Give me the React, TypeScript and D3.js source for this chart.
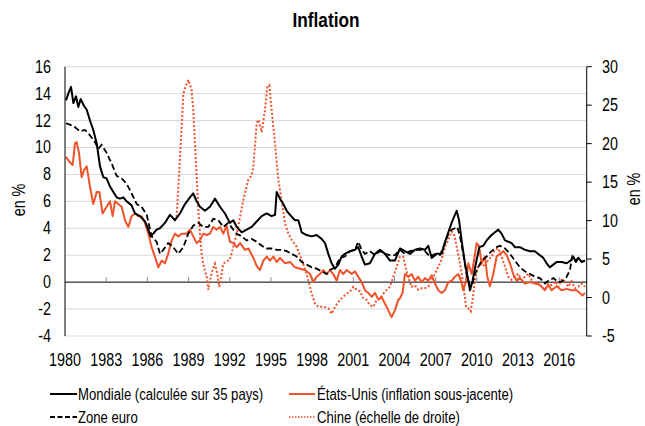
import React from 'react';
import * as d3 from 'd3';

// [année décimale, valeur en %]
const mondiale: [number, number][] = [
  [1980.07, 13.5], [1980.24, 14.0], [1980.44, 14.5], [1980.61, 13.3], [1980.8, 13.8], [1980.97, 13.0],
  [1981.14, 13.6], [1981.38, 13.1], [1981.58, 12.8], [1981.82, 12.0], [1982.06, 11.3], [1982.31, 10.3],
  [1982.55, 8.6], [1982.79, 7.8], [1983.03, 7.7], [1983.28, 7.1], [1983.52, 6.7], [1983.76, 6.3],
  [1984.0, 6.2], [1984.25, 6.3], [1984.49, 6.0], [1984.85, 5.7], [1985.1, 5.1], [1985.46, 4.9],
  [1985.83, 4.5], [1986.0, 4.1], [1986.24, 3.4], [1986.43, 3.6], [1986.67, 3.9], [1986.92, 4.0],
  [1987.28, 4.4], [1987.65, 5.0], [1988.01, 4.6], [1988.37, 5.1], [1988.74, 5.8], [1989.1, 6.3],
  [1989.34, 6.6], [1989.59, 6.0], [1989.83, 5.6], [1990.19, 5.3], [1990.56, 5.6], [1990.92, 6.2],
  [1991.29, 5.6], [1991.65, 5.1], [1992.01, 4.4], [1992.26, 4.6], [1992.51, 4.1], [1992.87, 3.7],
  [1993.23, 3.9], [1993.6, 4.1], [1993.96, 4.5], [1994.33, 4.9], [1994.69, 5.1], [1995.05, 4.9],
  [1995.3, 5.0], [1995.42, 6.7], [1995.66, 6.2], [1995.9, 5.8], [1996.15, 5.3], [1996.39, 5.0],
  [1996.75, 4.6], [1997.0, 4.6], [1997.24, 3.7], [1997.6, 3.5], [1997.97, 3.4], [1998.33, 3.5],
  [1998.7, 3.2], [1998.94, 2.9], [1999.18, 2.1], [1999.42, 1.4], [1999.67, 1.0], [1999.91, 1.3],
  [2000.15, 1.9], [2000.39, 2.1], [2000.76, 2.3], [2001.12, 2.4], [2001.36, 2.6], [2001.61, 1.9],
  [2001.85, 1.3], [2002.21, 1.4], [2002.58, 2.1], [2002.94, 2.4], [2003.31, 2.1], [2003.67, 1.6],
  [2004.03, 1.6], [2004.4, 2.5], [2004.76, 2.3], [2005.13, 2.1], [2005.49, 2.4], [2005.86, 2.5],
  [2006.22, 2.4], [2006.46, 2.7], [2006.71, 1.8], [2007.07, 2.1], [2007.43, 2.1], [2007.68, 3.0],
  [2007.92, 3.7], [2008.16, 4.4], [2008.36, 4.9], [2008.53, 5.3], [2008.7, 4.6], [2008.89, 3.1],
  [2009.13, 1.4], [2009.38, 0.1], [2009.5, -0.6], [2009.69, 0.1], [2009.93, 1.4], [2010.18, 2.6],
  [2010.47, 2.7], [2010.71, 3.1], [2011.07, 3.5], [2011.32, 3.7], [2011.56, 3.9], [2011.8, 3.6],
  [2012.05, 3.1], [2012.29, 3.0], [2012.53, 2.9], [2012.77, 2.6], [2013.14, 2.6], [2013.5, 2.4],
  [2013.87, 2.3], [2014.23, 2.3], [2014.59, 2.0], [2014.84, 1.8], [2015.08, 1.4], [2015.32, 1.1],
  [2015.57, 1.3], [2015.81, 1.5], [2016.17, 1.5], [2016.54, 1.4], [2016.83, 1.6], [2017.02, 1.9],
  [2017.22, 1.5], [2017.39, 1.8], [2017.63, 1.5], [2017.87, 1.6],
];

const zoneEuro: [number, number][] = [
  [1980.07, 11.8], [1980.36, 11.7], [1980.73, 11.5], [1981.09, 11.2], [1981.46, 11.3], [1981.82, 10.9],
  [1982.18, 10.4], [1982.43, 9.9], [1982.67, 10.2], [1983.03, 9.6], [1983.4, 8.8], [1983.76, 7.9],
  [1984.13, 7.7], [1984.49, 7.3], [1984.85, 6.6], [1985.22, 5.8], [1985.58, 5.6], [1985.95, 5.0],
  [1986.31, 3.4], [1986.67, 3.0], [1986.92, 2.1], [1987.16, 2.4], [1987.52, 2.9], [1987.89, 2.6],
  [1988.25, 2.1], [1988.62, 2.6], [1988.98, 3.6], [1989.34, 4.2], [1989.71, 4.4], [1990.07, 4.1],
  [1990.44, 4.1], [1990.8, 4.7], [1991.17, 4.6], [1991.53, 4.1], [1991.89, 4.4], [1992.26, 3.9],
  [1992.51, 3.6], [1992.87, 3.4], [1993.23, 3.1], [1993.6, 3.2], [1993.96, 3.0], [1994.33, 2.7],
  [1994.69, 2.5], [1995.05, 2.5], [1995.42, 2.4], [1995.78, 2.4], [1996.15, 2.3], [1996.51, 2.1],
  [1996.87, 1.9], [1997.24, 1.5], [1997.6, 1.3], [1997.97, 1.1], [1998.33, 1.0], [1998.7, 0.8],
  [1999.06, 0.6], [1999.3, 0.9], [1999.67, 1.1], [2000.03, 1.8], [2000.39, 1.9], [2000.76, 2.3],
  [2001.12, 2.4], [2001.36, 3.0], [2001.61, 2.4], [2001.85, 2.1], [2002.21, 2.3], [2002.58, 2.0],
  [2002.94, 2.3], [2003.31, 2.1], [2003.67, 2.0], [2004.03, 2.0], [2004.4, 2.4], [2004.76, 2.1],
  [2005.13, 2.3], [2005.49, 2.4], [2005.86, 2.4], [2006.22, 2.3], [2006.58, 1.9], [2006.95, 2.1],
  [2007.31, 2.0], [2007.68, 2.9], [2007.92, 3.6], [2008.16, 3.9], [2008.4, 4.0], [2008.57, 4.1],
  [2008.77, 3.4], [2009.01, 2.1], [2009.25, 0.6], [2009.5, -0.3], [2009.69, -0.1], [2009.86, 0.6],
  [2010.1, 1.1], [2010.35, 1.6], [2010.71, 1.9], [2011.07, 2.3], [2011.44, 2.6], [2011.68, 2.7],
  [2012.05, 2.5], [2012.41, 2.1], [2012.77, 1.6], [2013.14, 1.1], [2013.5, 0.8], [2013.87, 0.6],
  [2014.23, 0.4], [2014.59, 0.3], [2014.96, -0.1], [2015.2, 0.1], [2015.57, 0.3], [2015.93, 0.0],
  [2016.29, 0.1], [2016.54, 0.4], [2016.78, 0.9], [2016.95, 1.9], [2017.14, 1.6], [2017.39, 1.8],
  [2017.63, 1.5], [2017.87, 1.6],
];

const etatsUnis: [number, number][] = [
  [1980.07, 9.3], [1980.36, 8.9], [1980.56, 8.7], [1980.73, 10.3], [1980.85, 10.4], [1981.02, 9.6],
  [1981.21, 7.8], [1981.38, 8.3], [1981.58, 8.6], [1981.82, 7.1], [1982.06, 5.8], [1982.31, 6.7],
  [1982.5, 6.7], [1982.74, 5.1], [1983.03, 5.6], [1983.28, 6.0], [1983.47, 4.9], [1983.64, 6.0],
  [1983.88, 5.8], [1984.13, 5.6], [1984.37, 4.6], [1984.61, 4.1], [1984.85, 4.9], [1985.1, 5.1],
  [1985.34, 4.9], [1985.58, 4.9], [1985.83, 4.4], [1986.07, 3.6], [1986.31, 2.6], [1986.55, 1.9],
  [1986.8, 1.1], [1987.04, 1.6], [1987.28, 1.4], [1987.52, 2.1], [1987.77, 3.1], [1988.01, 3.6],
  [1988.25, 3.4], [1988.5, 3.6], [1988.86, 3.6], [1989.1, 3.9], [1989.34, 3.4], [1989.59, 2.9],
  [1989.83, 3.1], [1990.07, 3.6], [1990.32, 3.5], [1990.56, 3.6], [1990.8, 4.1], [1991.04, 3.9],
  [1991.29, 4.1], [1991.53, 3.6], [1991.77, 4.2], [1992.01, 3.0], [1992.26, 2.9], [1992.51, 2.6],
  [1992.75, 2.9], [1993.11, 2.4], [1993.36, 2.5], [1993.72, 1.8], [1993.96, 1.2], [1994.2, 0.9],
  [1994.45, 1.6], [1994.69, 1.9], [1994.93, 1.6], [1995.18, 1.9], [1995.42, 1.5], [1995.66, 1.8],
  [1996.03, 1.4], [1996.39, 1.5], [1996.75, 1.1], [1997.12, 1.0], [1997.48, 0.9], [1997.85, 0.6],
  [1998.09, 0.0], [1998.33, 0.4], [1998.57, 0.6], [1998.82, 0.9], [1999.06, 0.6], [1999.3, 0.9],
  [1999.54, 0.6], [1999.79, 0.1], [2000.03, 0.9], [2000.27, 0.6], [2000.52, 0.9], [2000.88, 0.6],
  [2001.12, 0.8], [2001.36, 0.4], [2001.61, 0.0], [2001.85, -0.6], [2002.09, -0.8], [2002.34, -1.1],
  [2002.58, -0.8], [2002.82, -1.3], [2003.06, -1.1], [2003.31, -1.6], [2003.55, -2.1], [2003.79, -2.6],
  [2004.03, -2.1], [2004.28, -1.3], [2004.4, -1.2], [2004.59, -0.8], [2004.76, 0.6], [2005.01, 0.4],
  [2005.25, 0.6], [2005.49, 0.1], [2005.73, 0.4], [2005.98, 0.0], [2006.22, 0.3], [2006.46, 0.1],
  [2006.71, 0.5], [2006.95, -0.1], [2007.19, -0.6], [2007.43, -0.8], [2007.68, -0.6], [2007.92, 0.0],
  [2008.16, 0.1], [2008.4, 0.4], [2008.65, 0.6], [2008.84, 0.1], [2009.01, -0.6], [2009.21, 0.1],
  [2009.38, 1.4], [2009.62, 0.6], [2009.79, 1.6], [2009.98, 2.9], [2010.15, 2.7], [2010.35, 1.4],
  [2010.59, 1.9], [2010.76, 0.4], [2010.95, -0.3], [2011.2, 0.6], [2011.44, 1.9], [2011.68, 2.1],
  [2011.92, 2.3], [2012.17, 2.0], [2012.41, 1.4], [2012.65, 0.6], [2012.9, 0.1], [2013.14, 0.3],
  [2013.5, -0.1], [2013.87, 0.0], [2014.23, -0.1], [2014.59, -0.2], [2014.96, -0.6], [2015.2, -0.2],
  [2015.44, -0.6], [2015.81, -0.3], [2016.17, -0.6], [2016.54, -0.5], [2016.9, -0.6], [2017.26, -0.6],
  [2017.5, -0.8], [2017.69, -1.0], [2017.87, -0.8],
];

// échelle de droite
const chine: [number, number][] = [
  [1988.13, 10.5], [1988.37, 17.9], [1988.62, 26.5], [1988.74, 27.2], [1988.98, 28.3], [1989.22, 27.0],
  [1989.34, 24.4], [1989.47, 20.0], [1989.59, 15.7], [1989.71, 11.4], [1989.83, 8.3], [1989.95, 5.7],
  [1990.12, 4.0], [1990.32, 2.7], [1990.44, 1.0], [1990.56, 2.3], [1990.75, 3.6], [1990.92, 4.4],
  [1991.09, 3.1], [1991.24, 1.4], [1991.41, 3.1], [1991.53, 4.4], [1991.77, 4.7], [1992.01, 4.9],
  [1992.26, 6.6], [1992.51, 8.3], [1992.75, 10.5], [1992.99, 12.7], [1993.35, 15.3], [1993.6, 15.9],
  [1993.72, 17.0], [1993.96, 22.6], [1994.08, 23.1], [1994.33, 21.5], [1994.57, 24.4], [1994.74, 27.4],
  [1994.88, 27.6], [1995.05, 24.4], [1995.3, 20.0], [1995.54, 15.3], [1995.78, 12.7], [1996.03, 9.6],
  [1996.27, 8.3], [1996.51, 7.5], [1996.87, 6.6], [1997.24, 4.9], [1997.6, 3.1], [1997.97, 0.5],
  [1998.21, -0.8], [1998.45, -1.2], [1998.82, -1.2], [1999.18, -1.4], [1999.42, -2.1], [1999.67, -1.2],
  [2000.03, -0.3], [2000.39, 0.3], [2000.76, 0.8], [2001.0, 1.4], [2001.24, 1.0], [2001.49, 0.8],
  [2001.73, -0.1], [2001.97, -0.3], [2002.21, -1.0], [2002.46, -1.2], [2002.7, -0.3], [2002.94, -0.1],
  [2003.19, 0.5], [2003.43, 1.0], [2003.67, 1.4], [2003.91, 2.7], [2004.16, 4.0], [2004.4, 5.3],
  [2004.64, 5.3], [2004.85, 3.6], [2005.0, 2.6], [2005.25, 1.4], [2005.49, 1.6], [2005.73, 1.0],
  [2005.98, 1.2], [2006.22, 1.2], [2006.46, 1.4], [2006.71, 2.3], [2006.95, 3.1], [2007.19, 4.0],
  [2007.43, 4.9], [2007.68, 6.6], [2007.92, 7.5], [2008.16, 8.6], [2008.33, 8.3], [2008.53, 6.6],
  [2008.72, 4.9], [2008.89, 3.1], [2009.06, 1.0], [2009.21, -1.2], [2009.38, -1.4], [2009.55, -1.8],
  [2009.69, -0.3], [2009.86, 2.3], [2010.1, 4.0], [2010.35, 4.4], [2010.59, 4.0], [2010.83, 4.9],
  [2011.07, 5.3], [2011.32, 6.2], [2011.56, 6.4], [2011.8, 5.3], [2012.05, 4.0], [2012.29, 2.7],
  [2012.53, 2.3], [2012.77, 2.7], [2013.02, 3.1], [2013.26, 2.3], [2013.5, 2.7], [2013.74, 3.1],
  [2013.99, 2.3], [2014.23, 1.8], [2014.47, 1.8], [2014.72, 1.4], [2014.96, 1.0], [2015.2, 1.8],
  [2015.44, 1.6], [2015.69, 2.1], [2015.93, 1.4], [2016.17, 2.3], [2016.41, 2.1], [2016.66, 1.4],
  [2016.9, 2.1], [2017.14, 1.2], [2017.39, 1.4], [2017.63, 1.8], [2017.87, 1.4],
];

const yearTicks = [1980, 1983, 1986, 1989, 1992, 1995, 1998, 2001, 2004, 2007, 2010, 2013, 2016];
const leftTicks = [-4, -2, 0, 2, 4, 6, 8, 10, 12, 14, 16];
const rightTicks = [-5, 0, 5, 10, 15, 20, 25, 30];

const ORANGE = '#f0522a';
const FONT = '"Liberation Sans", Arial, sans-serif';
const NARROW = 0.82; // imitation Arial Narrow

// texte étroit : on compresse horizontalement autour du point d'ancrage
function NText({ x, y, size, anchor = 'start', rotate = 0, bold = false, children }: any) {
  const tf = `translate(${x},${y}) rotate(${rotate}) scale(${NARROW},1)`;
  return (
    <text transform={tf} textAnchor={anchor} fontSize={size} fontWeight={bold ? 'bold' : 'normal'}>
      {children}
    </text>
  );
}

export default function App() {
  const W = 645, H = 426;
  const x = d3.scaleLinear().domain([1980, 2018]).range([65, 586.7]);
  const yL = d3.scaleLinear().domain([-4, 16]).range([336, 66.7]);
  const yR = d3.scaleLinear().domain([-5, 30]).range([336, 66.7]);

  const lineL = d3.line<[number, number]>().x(d => x(d[0])).y(d => yL(d[1]));
  const lineR = d3.line<[number, number]>().x(d => x(d[0])).y(d => yR(d[1]));

  const [x0, x1] = x.range();

  return (
    <svg width={W} height={H} style={{ position: 'absolute', left: 0, top: 0, background: '#fff' }} fontFamily={FONT}>
      <NText x={326} y={27} size={21} anchor="middle" bold>Inflation</NText>

      {/* grille */}
      {leftTicks.filter(t => t !== 0).map(t => (
        <line key={t} x1={x0} x2={x1} y1={yL(t)} y2={yL(t)} stroke="#d9d9d9" strokeWidth={1} />
      ))}

      {/* axe zéro avec graduations */}
      <line x1={x0} x2={x1} y1={yL(0)} y2={yL(0)} stroke="#000" strokeWidth={1} />
      {yearTicks.slice(1).map(t => (
        <line key={t} x1={x(t)} x2={x(t)} y1={yL(0)} y2={yL(0) - 5} stroke="#888" strokeWidth={1} />
      ))}

      {/* séries */}
      <path d={lineR(chine) || ''} fill="none" stroke={ORANGE} strokeWidth={2} strokeDasharray="2,2" />
      <path d={lineL(etatsUnis) || ''} fill="none" stroke={ORANGE} strokeWidth={2} strokeLinejoin="round" />
      <path d={lineL(zoneEuro) || ''} fill="none" stroke="#000" strokeWidth={1.8} strokeDasharray="6,3" />
      <path d={lineL(mondiale) || ''} fill="none" stroke="#000" strokeWidth={2} strokeLinejoin="round" />

      {/* axes verticaux */}
      <line x1={x0} x2={x0} y1={yL(16)} y2={yL(-4)} stroke="#000" strokeWidth={1} />
      <line x1={x1} x2={x1} y1={yR(30)} y2={yR(-5)} stroke="#000" strokeWidth={1} />
      {rightTicks.map(t => (
        <line key={t} x1={x1} x2={x1 + 5} y1={yR(t)} y2={yR(t)} stroke="#000" strokeWidth={1} />
      ))}

      {leftTicks.map(t => (
        <NText key={t} x={51} y={yL(t) + 6} size={17.5} anchor="end">{t}</NText>
      ))}
      {rightTicks.map(t => (
        <NText key={t} x={602} y={yR(t) + 6} size={17.5} anchor="start">{t}</NText>
      ))}
      {yearTicks.map(t => (
        <NText key={t} x={x(t)} y={366} size={17.5} anchor="middle">{t}</NText>
      ))}

      <NText x={25} y={200} size={17.5} anchor="middle" rotate={-90}>en %</NText>
      <NText x={640} y={189} size={17.5} anchor="middle" rotate={-90}>en %</NText>

      {/* légende */}
      <line x1={50} x2={77} y1={394} y2={394} stroke="#000" strokeWidth={2} />
      <NText x={78} y={400} size={16}>Mondiale (calculée sur 35 pays)</NText>
      <line x1={289} x2={315} y1={394} y2={394} stroke={ORANGE} strokeWidth={2} />
      <NText x={317} y={400} size={16}>États-Unis (inflation sous-jacente)</NText>
      <line x1={50} x2={77} y1={417} y2={417} stroke="#000" strokeWidth={1.8} strokeDasharray="5,2.5" />
      <NText x={78} y={423} size={16}>Zone euro</NText>
      <line x1={289} x2={315} y1={417} y2={417} stroke={ORANGE} strokeWidth={1.5} strokeDasharray="1.5,1.5" />
      <NText x={317} y={423} size={16}>Chine (échelle de droite)</NText>
    </svg>
  );
}
